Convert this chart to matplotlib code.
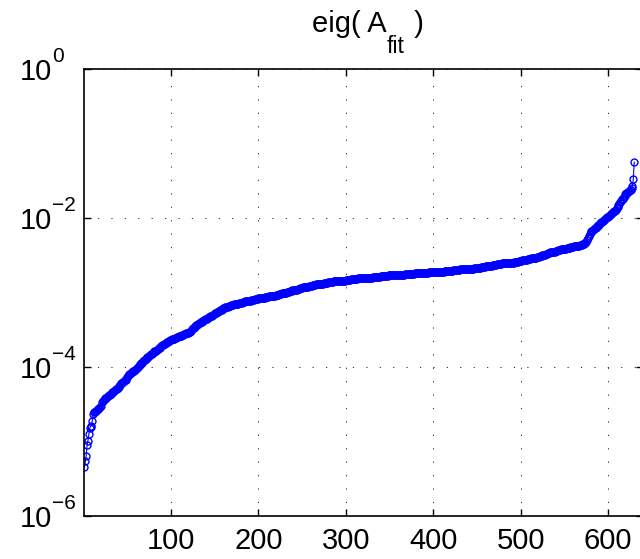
import matplotlib
matplotlib.use('Agg')
import matplotlib.pyplot as plt
import numpy as np

plt.rcParams['font.family'] = ['Liberation Sans', 'DejaVu Sans']

# 特征值 (log10), 按升序排列
eig_log10 = [
    -5.34, -5.26, -5.19, -5.05, -4.99, -4.90, -4.82, -4.80, -4.79, -4.72,
    -4.63, -4.61, -4.60, -4.59, -4.58, -4.57, -4.56, -4.55, -4.54, -4.52,
    -4.47, -4.45, -4.44, -4.43, -4.42, -4.41, -4.40, -4.39, -4.38, -4.37,
    -4.36, -4.35, -4.34, -4.33, -4.32, -4.31, -4.30, -4.29, -4.28, -4.27,
    -4.25, -4.24, -4.22, -4.21, -4.20, -4.19, -4.18, -4.17, -4.16, -4.14,
    -4.12, -4.10, -4.09, -4.08, -4.07, -4.06, -4.06, -4.05, -4.04, -4.02,
    -4.01, -4.00, -3.98, -3.97, -3.96, -3.95, -3.94, -3.92, -3.91, -3.90,
    -3.89, -3.88, -3.87, -3.86, -3.85, -3.84, -3.83, -3.82, -3.81, -3.80,
    -3.79, -3.78, -3.78, -3.77, -3.76, -3.75, -3.74, -3.73, -3.72, -3.71,
    -3.70, -3.69, -3.69, -3.68, -3.67, -3.66, -3.66, -3.65, -3.64, -3.64,
    -3.63, -3.63, -3.62, -3.62, -3.61, -3.61, -3.60, -3.60, -3.59, -3.59,
    -3.58, -3.58, -3.57, -3.57, -3.56, -3.56, -3.55, -3.55, -3.54, -3.54,
    -3.53, -3.53, -3.51, -3.49, -3.48, -3.47, -3.46, -3.45, -3.44, -3.43,
    -3.42, -3.41, -3.41, -3.40, -3.39, -3.38, -3.38, -3.37, -3.36, -3.35,
    -3.35, -3.34, -3.33, -3.33, -3.32, -3.31, -3.31, -3.30, -3.29, -3.28,
    -3.28, -3.27, -3.26, -3.26, -3.25, -3.24, -3.23, -3.23, -3.22, -3.21,
    -3.21, -3.20, -3.20, -3.19, -3.19, -3.18, -3.18, -3.18, -3.17, -3.17,
    -3.17, -3.16, -3.16, -3.16, -3.15, -3.15, -3.15, -3.14, -3.14, -3.14,
    -3.14, -3.13, -3.13, -3.13, -3.12, -3.12, -3.12, -3.12, -3.11, -3.11,
    -3.11, -3.10, -3.10, -3.10, -3.10, -3.09, -3.09, -3.09, -3.09, -3.08,
    -3.08, -3.08, -3.08, -3.07, -3.07, -3.07, -3.07, -3.06, -3.06, -3.06,
    -3.06, -3.05, -3.05, -3.05, -3.05, -3.04, -3.04, -3.04, -3.04, -3.03,
    -3.03, -3.03, -3.03, -3.02, -3.02, -3.02, -3.01, -3.01, -3.01, -3.00,
    -3.00, -3.00, -2.99, -2.99, -2.99, -2.98, -2.98, -2.98, -2.97, -2.97,
    -2.97, -2.96, -2.96, -2.96, -2.95, -2.95, -2.95, -2.94, -2.94, -2.94,
    -2.93, -2.93, -2.93, -2.93, -2.92, -2.92, -2.92, -2.91, -2.91, -2.91,
    -2.91, -2.90, -2.90, -2.90, -2.90, -2.89, -2.89, -2.89, -2.89, -2.88,
    -2.88, -2.88, -2.88, -2.88, -2.87, -2.87, -2.87, -2.87, -2.87, -2.86,
    -2.86, -2.86, -2.86, -2.86, -2.86, -2.85, -2.85, -2.85, -2.85, -2.85,
    -2.85, -2.85, -2.84, -2.84, -2.84, -2.84, -2.84, -2.84, -2.84, -2.83,
    -2.83, -2.83, -2.83, -2.83, -2.83, -2.82, -2.82, -2.82, -2.82, -2.82,
    -2.82, -2.82, -2.82, -2.81, -2.81, -2.81, -2.81, -2.81, -2.81, -2.81,
    -2.81, -2.80, -2.80, -2.80, -2.80, -2.80, -2.80, -2.80, -2.80, -2.80,
    -2.79, -2.79, -2.79, -2.79, -2.79, -2.79, -2.79, -2.79, -2.79, -2.78,
    -2.78, -2.78, -2.78, -2.78, -2.78, -2.78, -2.78, -2.78, -2.77, -2.77,
    -2.77, -2.77, -2.77, -2.77, -2.77, -2.77, -2.77, -2.76, -2.76, -2.76,
    -2.76, -2.76, -2.76, -2.76, -2.76, -2.76, -2.76, -2.75, -2.75, -2.75,
    -2.75, -2.75, -2.75, -2.75, -2.75, -2.75, -2.75, -2.75, -2.74, -2.74,
    -2.74, -2.74, -2.74, -2.74, -2.74, -2.74, -2.74, -2.74, -2.74, -2.74,
    -2.74, -2.74, -2.74, -2.74, -2.73, -2.73, -2.73, -2.73, -2.73, -2.73,
    -2.73, -2.73, -2.73, -2.73, -2.72, -2.72, -2.72, -2.72, -2.72, -2.72,
    -2.72, -2.72, -2.71, -2.71, -2.71, -2.71, -2.71, -2.71, -2.71, -2.71,
    -2.71, -2.71, -2.70, -2.70, -2.70, -2.70, -2.70, -2.70, -2.70, -2.70,
    -2.69, -2.69, -2.69, -2.69, -2.69, -2.69, -2.69, -2.69, -2.68, -2.68,
    -2.68, -2.68, -2.68, -2.68, -2.68, -2.68, -2.67, -2.67, -2.67, -2.67,
    -2.67, -2.67, -2.67, -2.67, -2.66, -2.66, -2.66, -2.66, -2.66, -2.65,
    -2.65, -2.65, -2.65, -2.64, -2.64, -2.64, -2.64, -2.63, -2.63, -2.63,
    -2.63, -2.63, -2.62, -2.62, -2.62, -2.62, -2.62, -2.62, -2.61, -2.61,
    -2.61, -2.61, -2.61, -2.61, -2.61, -2.60, -2.60, -2.60, -2.60, -2.60,
    -2.60, -2.60, -2.59, -2.59, -2.59, -2.59, -2.59, -2.58, -2.58, -2.58,
    -2.58, -2.57, -2.57, -2.57, -2.56, -2.56, -2.56, -2.55, -2.55, -2.55,
    -2.55, -2.54, -2.54, -2.54, -2.54, -2.53, -2.53, -2.53, -2.52, -2.52,
    -2.52, -2.51, -2.51, -2.51, -2.50, -2.50, -2.49, -2.49, -2.48, -2.48,
    -2.47, -2.47, -2.47, -2.46, -2.46, -2.46, -2.45, -2.45, -2.45, -2.44,
    -2.44, -2.44, -2.43, -2.43, -2.43, -2.42, -2.42, -2.42, -2.42, -2.41,
    -2.41, -2.41, -2.40, -2.40, -2.40, -2.40, -2.39, -2.39, -2.39, -2.39,
    -2.38, -2.38, -2.38, -2.38, -2.37, -2.37, -2.37, -2.36, -2.36, -2.36,
    -2.35, -2.35, -2.34, -2.33, -2.32, -2.30, -2.27, -2.24, -2.21, -2.19,
    -2.18, -2.17, -2.16, -2.15, -2.14, -2.13, -2.12, -2.11, -2.10, -2.09,
    -2.07, -2.06, -2.05, -2.04, -2.03, -2.02, -2.01, -2.00, -1.99, -1.98,
    -1.97, -1.96, -1.95, -1.94, -1.93, -1.92, -1.91, -1.90, -1.89, -1.87,
    -1.85, -1.83, -1.81, -1.79, -1.77, -1.75, -1.74, -1.72, -1.70, -1.68,
    -1.67, -1.66, -1.65, -1.64, -1.63, -1.62, -1.60, -1.57, -1.47, -1.25,
]
eig_vals = 10.0 ** np.array(eig_log10)
idx = np.arange(1, len(eig_vals) + 1)

x_ticks = [100, 200, 300, 400, 500, 600]
y_exponents = [-6, -4, -2, 0]

fig = plt.figure(figsize=(6.4, 5.59), dpi=100)
ax = fig.add_axes([0.1306, 0.0769, 0.874, 0.7996])
ax.set_axisbelow(True)

ax.semilogy(idx, eig_vals, '-o', color='#0000ff', linewidth=0.8,
            markersize=5, markerfacecolor='none', markeredgewidth=1.0)

ax.set_xlim(0, 640)
ax.set_ylim(1e-6, 1e0)
ax.set_xticks(x_ticks)
ax.set_yticks([10.0 ** e for e in y_exponents])
ax.set_yticklabels([])
ax.yaxis.set_minor_locator(matplotlib.ticker.NullLocator())

# matlab 风格的稀疏点状网格
ax.grid(True, which='major', linestyle=(0, (1.3, 12.5)), color='#333333',
        linewidth=0.7)
ax.tick_params(direction='in', length=5, width=1, top=True, right=True,
               labelsize=21, pad=8)
for s in ax.spines.values():
    s.set_linewidth(1.2)

# y 轴标签: "10" 右对齐, 指数单独画 (matlab 样式)
for e in y_exponents:
    base = ax.annotate('10', xy=(0, 10.0 ** e), xycoords=('axes fraction', 'data'),
                       xytext=(-23, -8), textcoords='offset points',
                       fontsize=21, ha='right', va='baseline',
                       annotation_clip=False)
    exp_txt = str(e).replace('-', '\u2212')
    ax.annotate(exp_txt, xy=(1, 1), xycoords=base, xytext=(0.5, -3),
                textcoords='offset points', fontsize=15, ha='left',
                va='baseline', annotation_clip=False)

# 标题: eig( A_fit ), 下标单独画
t1 = fig.text(312 / 640, 1 - 32 / 559, 'eig( A', fontsize=21,
              ha='left', va='baseline')
t2 = ax.annotate('fit', xy=(1, 0), xycoords=t1, xytext=(0.3, 2),
                 textcoords='offset points', fontsize=16.5, ha='left', va='top')
t3 = ax.annotate(' )', xy=(1, 1 - 32 / 559), xycoords=(t2, 'figure fraction'),
                 xytext=(1, 0), textcoords='offset points',
                 fontsize=21, ha='left', va='baseline', annotation_clip=False)

fig.savefig('out.png', dpi=100)
